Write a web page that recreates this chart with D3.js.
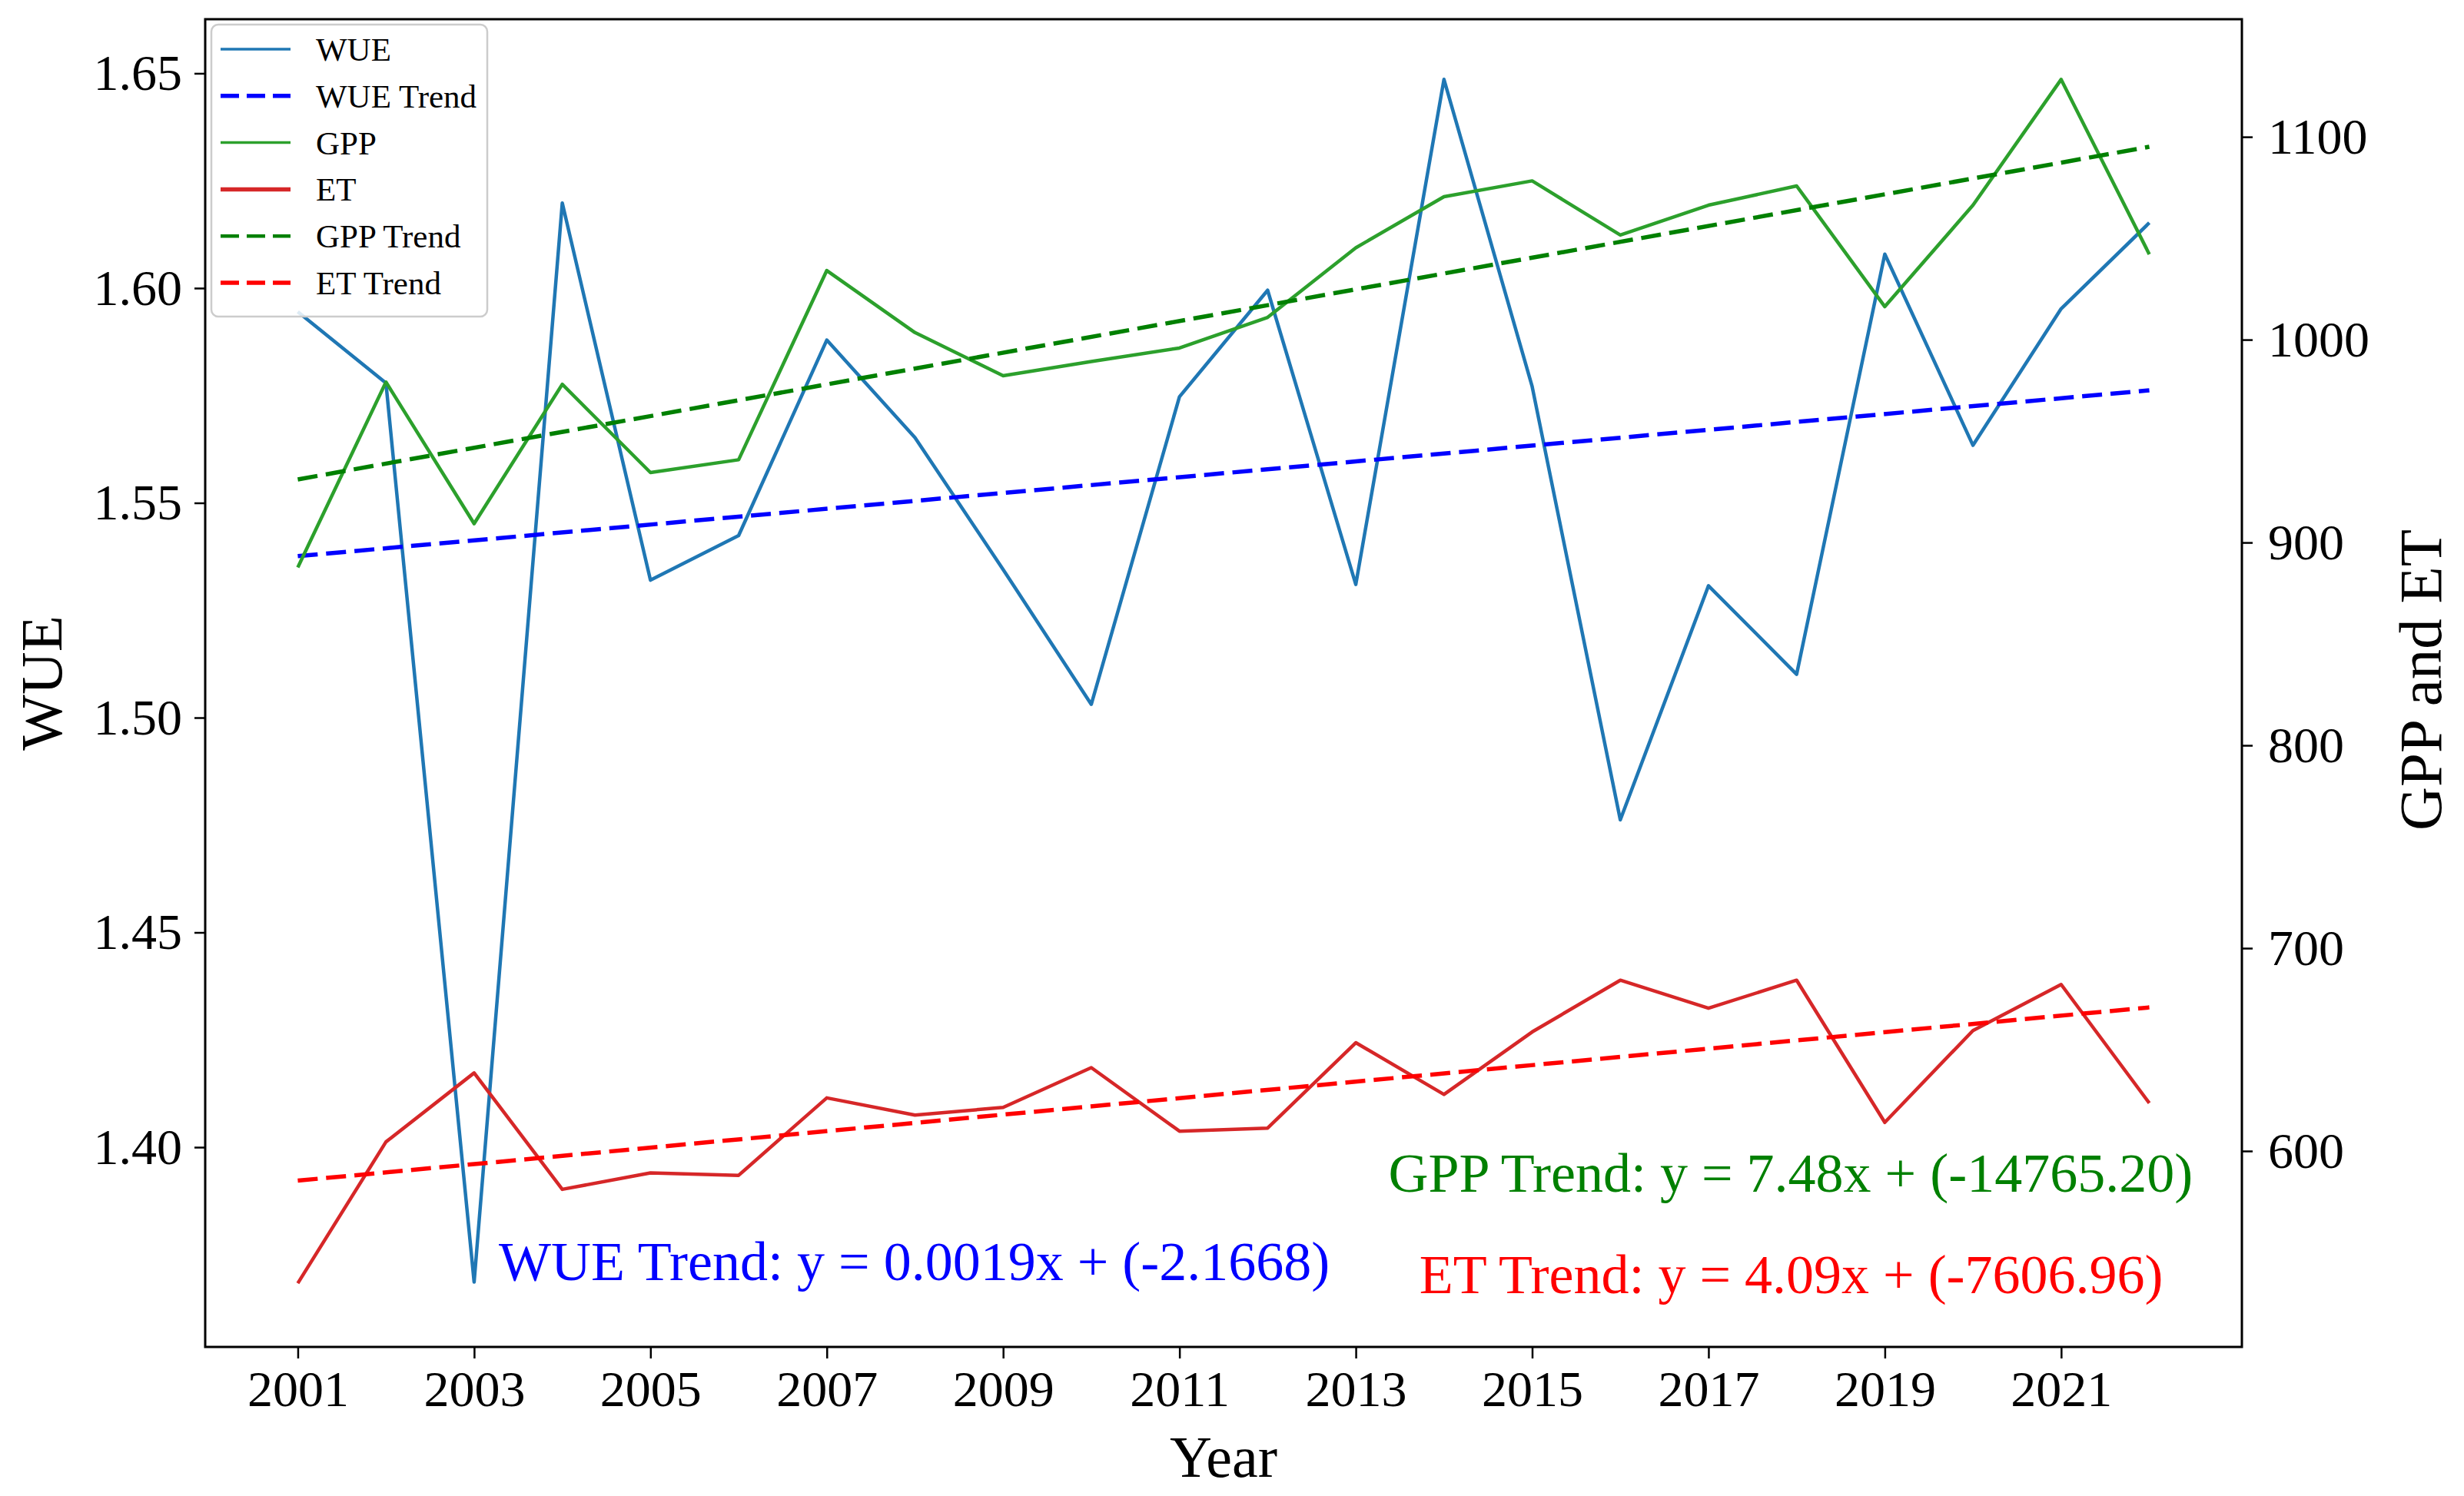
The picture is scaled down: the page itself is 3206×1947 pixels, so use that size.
<!DOCTYPE html>
<html>
<head>
<meta charset="utf-8">
<script src="https://cdn.jsdelivr.net/npm/d3@7"></script>
<style>
  body { margin: 0; background: #fff; }
  svg text { font-family: "Liberation Serif", "Times New Roman", serif; }
</style>
</head>
<body>
<svg id="chart" width="3206" height="1947"></svg>
<script>
// values
const years = [2001, 2002, 2003, 2004, 2005, 2006, 2007, 2008, 2009, 2010, 2011,
  2012, 2013, 2014, 2015, 2016, 2017, 2018, 2019, 2020, 2021, 2022];
const wue = [1.5945, 1.5779, 1.3686, 1.6198, 1.5320, 1.5424, 1.5879, 1.5652, 1.5345, 1.5031, 1.5747,
  1.5995, 1.5310, 1.6486, 1.5771, 1.4762, 1.5307, 1.5101, 1.6079, 1.5634, 1.5952, 1.6152];
const gpp = [887.7, 979.1, 909.3, 978.0, 934.5, 940.8, 1034.1, 1003.5, 982.2, 989.2, 995.9,
  1011.0, 1045.3, 1070.5, 1078.3, 1051.6, 1066.3, 1075.8, 1016.3, 1066.3, 1128.3, 1042.1];
const et = [534.8, 604.5, 638.5, 581.1, 589.2, 588.0, 626.2, 617.7, 621.5, 641.1, 609.8,
  611.3, 653.4, 627.9, 658.7, 684.2, 670.4, 684.2, 614.1, 659.4, 682.1, 623.6];

// dashed trend lines: value at first and last year
const trendYears = [2001, 2022];
const wueTrend = [1.5376, 1.5762];
const gppTrend = [931.1, 1095.1];
const etTrend = [585.4, 670.8];

const xTicks = [2001, 2003, 2005, 2007, 2009, 2011, 2013, 2015, 2017, 2019, 2021];
const wueTicks = [1.40, 1.45, 1.50, 1.55, 1.60, 1.65];
const rightTicks = [600, 700, 800, 900, 1000, 1100];

const legendLabels = ["WUE", "WUE Trend", "GPP", "ET", "GPP Trend", "ET Trend"];
const trendTexts = [
  "WUE Trend: y = 0.0019x + (-2.1668)",
  "GPP Trend: y = 7.48x + (-14765.20)",
  "ET Trend: y = 4.09x + (-7606.96)"
];

// plot box (window.top is taken, hence the prefix)
const plotLeft = 267, plotRight = 2917, plotTop = 25, plotBottom = 1753;

const svg = d3.select("#chart");
svg.append("rect").attr("width", 3206).attr("height", 1947).attr("fill", "#fff");

const x = d3.scaleLinear().domain([1999.95, 2023.05]).range([plotLeft, plotRight]);
const yL = d3.scaleLinear().domain([1.3535, 1.6626]).range([plotBottom, plotTop]);
const yR = d3.scaleLinear().domain([503.4, 1158]).range([plotBottom, plotTop]);

// series styles (matplotlib defaults + b--, g--, r--)
const series = [
  { label: "WUE", vals: wue, yrs: years, scale: yL, color: "#1f77b4", width: 4.5, dash: null, legW: 3.5 },
  { label: "WUE Trend", vals: wueTrend, yrs: trendYears, scale: yL, color: "#0000ff", width: 5.5, dash: "26,11", legW: 5.5 },
  { label: "GPP", vals: gpp, yrs: years, scale: yR, color: "#2ca02c", width: 4.5, dash: null, legW: 3.5 },
  { label: "ET", vals: et, yrs: years, scale: yR, color: "#d62728", width: 4.5, dash: null, legW: 5.5 },
  { label: "GPP Trend", vals: gppTrend, yrs: trendYears, scale: yR, color: "#008000", width: 5.5, dash: "26,11", legW: 4.5 },
  { label: "ET Trend", vals: etTrend, yrs: trendYears, scale: yR, color: "#ff0000", width: 5.5, dash: "26,11", legW: 5.5 }
];

const plot = svg.append("g");

series.forEach(s => {
  var line = d3.line()
    .x((d, i) => x(s.yrs[i]))
    .y(d => s.scale(d));
  plot.append("path")
    .datum(s.vals)
    .attr("d", line)
    .attr("fill", "none")
    .attr("stroke", s.color)
    .attr("stroke-width", s.width)
    .attr("stroke-linejoin", "round")
    .attr("stroke-dasharray", s.dash);
});

// trend equations, placed in data coords (wue text on left axis, others on right)
const annot = [
  { text: trendTexts[0], xv: 2003.28, y: yL(1.3691), color: "#0000ff" },
  { text: trendTexts[1], xv: 2013.37, y: yR(580.1), color: "#008000" },
  { text: trendTexts[2], xv: 2013.72, y: yR(530.1), color: "#ff0000" }
];
svg.selectAll(".annot")
  .data(annot)
  .enter()
  .append("text")
  .attr("class", "annot")
  .attr("x", d => x(d.xv))
  .attr("y", d => d.y)
  .attr("fill", d => d.color)
  .style("font-size", "72px")
  .text(d => d.text);

// frame
svg.append("rect")
  .attr("x", plotLeft).attr("y", plotTop)
  .attr("width", plotRight - plotLeft).attr("height", plotBottom - plotTop)
  .attr("fill", "none")
  .attr("stroke", "#000")
  .attr("stroke-width", 3);

// axes
var xAxis = svg.append("g")
  .attr("transform", `translate(0,${plotBottom})`)
  .call(d3.axisBottom(x).tickValues(xTicks).tickFormat(d3.format("d")).tickSize(15).tickPadding(15));

var leftAxis = svg.append("g")
  .attr("transform", `translate(${plotLeft},0)`)
  .call(d3.axisLeft(yL).tickValues(wueTicks).tickFormat(d3.format(".2f")).tickSize(14).tickPadding(16));

var rightAxis = svg.append("g")
  .attr("transform", `translate(${plotRight},0)`)
  .call(d3.axisRight(yR).tickValues(rightTicks).tickFormat(d3.format("d")).tickSize(14).tickPadding(20));

[xAxis, leftAxis, rightAxis].forEach(a => {
  a.select(".domain").remove();
  a.selectAll(".tick line").attr("stroke", "#000").attr("stroke-width", 2.5);
  a.selectAll(".tick text")
    .attr("fill", "#000")
    .style("font-family", "'Liberation Serif', 'Times New Roman', serif")
    .style("font-size", "66px");
});

// axis titles
svg.append("text")
  .attr("x", (plotLeft + plotRight) / 2)
  .attr("y", 1922)
  .attr("text-anchor", "middle")
  .style("font-size", "76px")
  .text("Year");

svg.append("text")
  .attr("transform", `translate(80,${(plotTop + plotBottom) / 2}) rotate(-90)`)
  .attr("text-anchor", "middle")
  .style("font-size", "77px")
  .text("WUE");

svg.append("text")
  .attr("transform", `translate(3176,${(plotTop + plotBottom) / 2 - 4}) rotate(-90)`)
  .attr("text-anchor", "middle")
  .style("font-size", "79px")
  .text("GPP and ET");

// legend, upper left
var legend = svg.append("g").attr("transform", "translate(275,32)");
legend.append("rect")
  .attr("width", 359).attr("height", 380)
  .attr("rx", 9)
  .attr("fill", "#fff").attr("fill-opacity", 0.85)
  .attr("stroke", "#cccccc").attr("stroke-width", 2.5);

var rows = legend.selectAll(".row")
  .data(series)
  .enter()
  .append("g")
  .attr("class", "row")
  .attr("transform", (d, i) => `translate(0,${32 + i * 60.8})`);

rows.append("line")
  .attr("x1", 12).attr("x2", 103)
  .attr("stroke", d => d.color)
  .attr("stroke-width", d => d.legW)
  .attr("stroke-dasharray", d => d.dash ? "24,10" : null);

rows.append("text")
  .attr("x", 136)
  .attr("y", 15)
  .style("font-size", "43px")
  .text((d, i) => legendLabels[i]);
</script>
</body>
</html>
